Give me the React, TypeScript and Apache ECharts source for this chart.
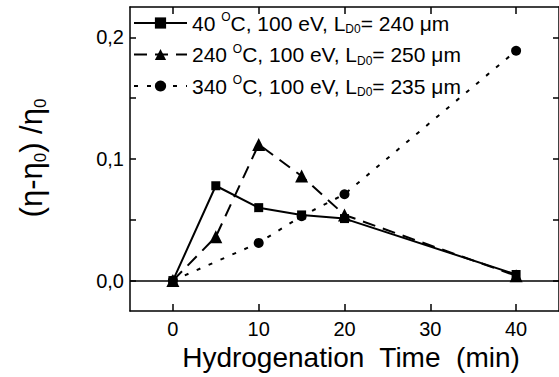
import React, { useEffect, useRef } from "react";
import * as echarts from "echarts";

const times = [0, 5, 10, 15, 20, 40];
const s40 = [0, 0.078, 0.06, 0.054, 0.051, 0.005];
const s240 = [0, 0.036, 0.112, 0.086, 0.054, 0.004];
const timesC = [0, 10, 15, 20, 40];
const s340 = [0, 0.031, 0.053, 0.071, 0.189];
const xTicks = [0, 10, 20, 30, 40];
const yTicks = [0, 0.05, 0.1, 0.15, 0.2];
const yLabels = [0, 0.1, 0.2];
const legendTemps = ["40", "240", "340"];
const legendL = ["240", "250", "235"];
const seriesNames = ["s40", "s240", "s340"];

const FONT = "Arial, 'Liberation Sans', sans-serif";

export default function App() {
  const ref = useRef<HTMLDivElement>(null);
  useEffect(() => {
    const chart = echarts.init(ref.current!, null, { renderer: "svg" });
    const pair = (xs: number[], ys: number[]) => xs.map((x, i) => [x, ys[i]]);
    const axisLineStyle = { color: "#000", width: 1.5 };
    const tickStyle = { color: "#000", width: 1.5 };
    chart.setOption({
      animation: false,
      backgroundColor: "#fff",
      grid: { left: 130, right: -2, top: 7, bottom: 66, show: false },
      xAxis: [
        {
          type: "value",
          min: -5,
          max: 45,
          axisLine: { show: true, onZero: false, lineStyle: axisLineStyle },
          axisTick: { show: true, inside: true, length: 7, lineStyle: tickStyle, customValues: xTicks },
          axisLabel: { show: true, fontFamily: FONT, fontSize: 20, color: "#000", margin: 8, customValues: xTicks },
          splitLine: { show: false },
        },
        {
          type: "value",
          position: "top",
          min: -5,
          max: 45,
          axisLine: { show: true, onZero: false, lineStyle: axisLineStyle },
          axisTick: { show: true, inside: true, length: 7, lineStyle: tickStyle, customValues: xTicks },
          axisLabel: { show: false },
          splitLine: { show: false },
        },
      ],
      yAxis: [
        {
          type: "value",
          min: -0.025,
          max: 0.225,
          axisLine: { show: true, onZero: false, lineStyle: axisLineStyle },
          axisTick: { show: true, inside: true, length: 6, lineStyle: tickStyle, customValues: yTicks },
          axisLabel: {
            show: true,
            fontFamily: FONT,
            fontSize: 20,
            color: "#000",
            margin: 6,
            customValues: yLabels,
            formatter: (v: number) => v.toFixed(1).replace(".", ","),
          },
          splitLine: { show: false },
        },
        {
          type: "value",
          position: "right",
          min: -0.025,
          max: 0.225,
          axisLine: { show: true, onZero: false, lineStyle: axisLineStyle },
          axisTick: { show: true, inside: true, length: 6, lineStyle: tickStyle, customValues: yTicks },
          axisLabel: { show: false },
          splitLine: { show: false },
        },
      ],
      legend: {
        orient: "vertical",
        left: 128,
        top: 6,
        itemWidth: 53,
        itemHeight: 14,
        itemGap: 7.5,
        data: seriesNames,
        formatter: (name: string) => {
          const i = seriesNames.indexOf(name);
          return `{n|${legendTemps[i]} }{sup|O}{n|C, 100 eV, L}{sub|D0}{n|= ${legendL[i]} μm}`;
        },
        textStyle: {
          fontFamily: FONT,
          fontSize: 20,
          color: "#000",
          rich: {
            n: { fontFamily: FONT, fontSize: 21, color: "#000", lineHeight: 24 },
            sup: { fontFamily: FONT, fontSize: 12, color: "#000", lineHeight: 12, verticalAlign: "top" },
            sub: { fontFamily: FONT, fontSize: 12, color: "#000", lineHeight: 12, verticalAlign: "bottom" },
          },
        },
      },
      series: [
        {
          name: seriesNames[0],
          type: "line",
          data: pair(times, s40),
          symbol: "rect",
          symbolSize: 9,
          itemStyle: { color: "#000" },
          lineStyle: { color: "#000", width: 2, type: "solid" },
          markLine: {
            silent: true,
            symbol: "none",
            label: { show: false },
            lineStyle: { color: "#000", width: 1.5, type: "solid" },
            data: [{ yAxis: 0 }],
          },
          z: 3,
        },
        {
          name: seriesNames[1],
          type: "line",
          data: pair(times, s240),
          symbol: "triangle",
          symbolSize: 13,
          itemStyle: { color: "#000" },
          lineStyle: { color: "#000", width: 2, type: [13, 8] },
          z: 3,
        },
        {
          name: seriesNames[2],
          type: "line",
          data: pair(timesC, s340),
          symbol: "circle",
          symbolSize: 10,
          itemStyle: { color: "#000" },
          lineStyle: { color: "#000", width: 2, type: [4, 9] },
          z: 3,
        },
      ],
      graphic: [
        {
          type: "text",
          x: 31,
          y: 158,
          rotation: Math.PI / 2,
          style: {
            text: "{a|(η-η}{s|0}{a|) /η}{s|0}",
            align: "center",
            verticalAlign: "middle",
            rich: {
              a: { fontFamily: FONT, fontSize: 31, color: "#000", lineHeight: 36 },
              s: { fontFamily: FONT, fontSize: 17, color: "#000", lineHeight: 17, verticalAlign: "bottom" },
            },
          },
        },
        {
          type: "text",
          x: 351,
          y: 357,
          style: {
            text: "Hydrogenation  Time  (min)",
            align: "center",
            verticalAlign: "middle",
            fontFamily: FONT,
            fontSize: 28,
            fill: "#000",
          },
        },
      ],
    });
    return () => chart.dispose();
  }, []);
  return <div ref={ref} style={{ width: 559, height: 377, position: "absolute", left: 0, top: 0 }} />;
}
